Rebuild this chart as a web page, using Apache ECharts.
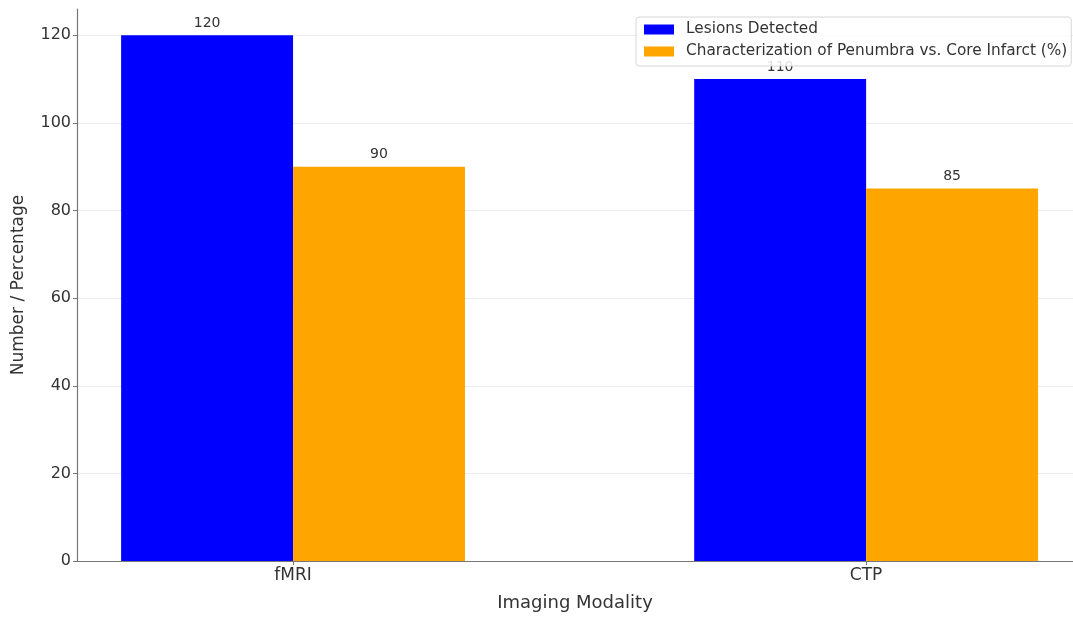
<!DOCTYPE html>
<html>
<head>
<meta charset="utf-8">
<script src="https://cdn.jsdelivr.net/npm/echarts@6/dist/echarts.min.js"></script>
<style>html,body{margin:0;padding:0;background:#fff}#c{width:1073px;height:617px}</style>
</head>
<body>
<div id="c"></div>
<script>
const categories = ['fMRI', 'CTP'];
const lesionsDetected = [120, 110];
const penumbraCharacterization = [90, 85];
const yTicks = [0, 20, 40, 60, 80, 100, 120];
const seriesNames = ['Lesions Detected', 'Characterization of Penumbra vs. Core Infarct (%)'];

const catIdx = categories.map((c, i) => i);
const font = 'DejaVu Sans';
const chart = echarts.init(document.getElementById('c'), null, {renderer: 'canvas'});
const labelStyle = {show: true, position: 'top', distance: 5, fontFamily: font, fontSize: 14, color: '#333'};
chart.setOption({
  animation: false,
  textStyle: {fontFamily: font},
  grid: {left: 77, top: 9, right: 0, bottom: 53, containLabel: false},
  legend: {
    orient: 'vertical', left: 636, top: 17, z: 10,
    itemWidth: 30, itemHeight: 10, itemGap: 7,
    padding: [5, 4, 7, 8],
    backgroundColor: 'rgba(255,255,255,0.85)',
    borderColor: '#d6d6d6', borderWidth: 1, borderRadius: 3,
    textStyle: {fontFamily: font, fontSize: 15.3, color: '#333', padding: [0, 0, 0, 7]},
    data: seriesNames.map(n => ({name: n, icon: 'rect'}))
  },
  xAxis: {
    type: 'value', min: -0.377, max: 1.361,
    name: 'Imaging Modality', nameLocation: 'middle', nameGap: 33,
    nameTextStyle: {fontFamily: font, fontSize: 18, color: '#333'},
    axisLine: {show: true, lineStyle: {color: '#777', width: 1.2}},
    axisTick: {show: true, length: 4, customValues: catIdx, lineStyle: {color: '#777'}},
    axisLabel: {customValues: catIdx, margin: 6, fontFamily: font, fontSize: 17, color: '#333',
      formatter: v => categories[Math.round(v)] || ''},
    splitLine: {show: false}
  },
  yAxis: {
    type: 'value', min: 0, max: 126,
    name: 'Number / Percentage', nameLocation: 'middle', nameGap: 50,
    nameTextStyle: {fontFamily: font, fontSize: 17, color: '#333'},
    axisLine: {show: true, onZero: false, lineStyle: {color: '#777', width: 1.2}},
    axisTick: {show: true, length: 4, customValues: yTicks, lineStyle: {color: '#777'}},
    axisLabel: {customValues: yTicks, margin: 6, fontFamily: font, fontSize: 16, color: '#333'},
    splitLine: {show: true, lineStyle: {color: '#ececec', width: 1}}
  },
  series: [
    {name: seriesNames[0], type: 'bar', barWidth: '30%', barGap: '0%', z: 2,
     itemStyle: {color: '#0000ff'}, label: labelStyle,
     data: lesionsDetected.map((v, i) => [catIdx[i], v])},
    {name: seriesNames[1], type: 'bar', barWidth: '30%', barGap: '0%', z: 2,
     itemStyle: {color: '#ffa500'}, label: labelStyle,
     data: penumbraCharacterization.map((v, i) => [catIdx[i], v])}
  ]
});
</script>
</body>
</html>
